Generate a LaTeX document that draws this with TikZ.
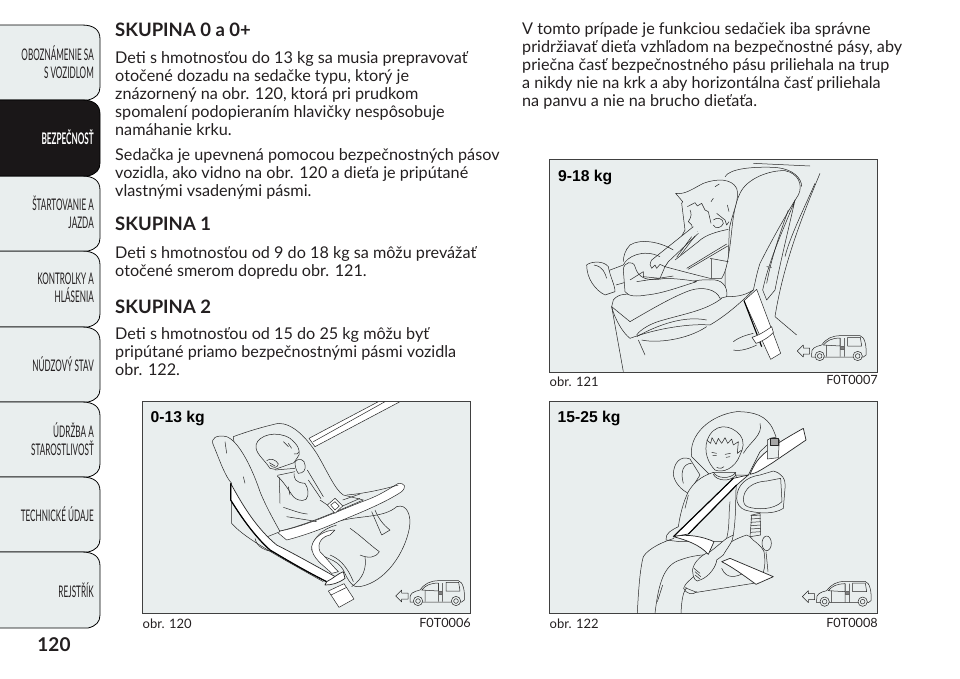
\documentclass[tikz,border=0pt]{standalone}
\usepackage{fontspec}
\setmainfont{Lato}
\newfontfamily\tabfont[FakeStretch=0.51]{Lato}
\newfontfamily\panelfont{Liberation Sans}
\definecolor{tabfill}{HTML}{E9EEEE}
\definecolor{tabdark}{HTML}{1A1718}
\definecolor{inktext}{HTML}{231F20}

\tikzset{
  bodytext/.style={anchor=north west,align=left,inner sep=0pt,text=inktext,font=\fontsize{16.2}{18}\selectfont},
  headtext/.style={anchor=west,inner sep=0pt,text=inktext,font=\fontsize{18.5}{20}\selectfont\bfseries},
  tabtext/.style={anchor=east,align=right,inner sep=0pt,text=inktext,font=\tabfont\fontsize{16}{18}\selectfont},
  kgtext/.style={anchor=west,inner sep=0pt,text=black,font=\panelfont\bfseries\fontsize{15.7}{18}\selectfont},
  captext/.style={anchor=base west,inner sep=0pt,text=inktext,font=\fontsize{13}{15}\selectfont},
  codetext/.style={anchor=base east,inner sep=0pt,text=inktext,font=\fontsize{12.7}{15}\selectfont},
  panel/.style={draw=black!75,line width=0.8pt,fill=tabfill},
  art/.style={draw=black!85,line width=0.5pt,line join=round},
  strap/.style={art,fill=white},
  tabshape/.style={draw=black,line width=0.8pt,fill=tabfill},
  vanicon/.pic={
    \draw[art,fill=tabfill] (797,603) -- (815,585) -- (815,594) -- (834,594) -- (834,612) -- (815,612) -- (815,621) -- cycle;
    \draw[art] (840,612) .. controls (838,595) and (850,590) .. (870,585) .. controls (885,565) and (900,558) .. (925,557) -- (985,557) .. controls (1000,560) and (1005,590) .. (1003,615) -- (995,621) -- (840,621) -- cycle;
    \draw[art] (875,585) .. controls (888,570) and (900,565) .. (925,564) -- (925,588) -- cycle;
    \draw[art] (885,585) -- (885,620) (925,564) -- (925,620) (938,564) -- (938,620) (948,562) -- (948,588) -- (990,588) -- (986,562) -- cycle;
    \draw[black!60,fill=black!50] (926,588) rectangle (938,597);
    \draw[art,fill=tabfill] (864,618) circle (14);
    \draw[art,fill=tabfill] (864,618) circle (7);
    \draw[art,fill=tabfill] (978,618) circle (14);
    \draw[art,fill=tabfill] (978,618) circle (7);
  }
}

\begin{document}
\begin{tikzpicture}[x=1pt,y=-1pt]
\useasboundingbox (0,0) rectangle (960,678);

% tabs
\foreach \ta/\tb in {25/100,251/327,327/402,402/477,477/552,552/628,176/251}{
  \draw[tabshape] (-2,\ta) -- (82,\ta) .. controls (94,\ta) and (100,{\ta+5}) .. (100,{\ta+14}) -- (100,{\tb-13}) .. controls (100,{\tb-6}) and (96,{\tb-2}) .. (88,\tb) -- (-2,\tb);
}
\draw[tabshape,fill=tabdark] (-2,100) -- (82,100) .. controls (94,100) and (100,105) .. (100,114) -- (100,163) .. controls (100,170) and (96,174) .. (88,176) -- (-2,176) -- cycle;

\node[tabtext] (tabA) at (94,62) {OBOZNÁMENIE SA\\S VOZIDLOM};
\node[tabtext,text=white] (tabB) at (94,137) {\bfseries BEZPEČNOSŤ};
\node[tabtext] (tabC) at (94,212) {ŠTARTOVANIE A\\JAZDA};
\node[tabtext] (tabD) at (94,288) {KONTROLKY A\\HLÁSENIA};
\node[tabtext] (tabE) at (94,364) {NÚDZOVÝ STAV};
\node[tabtext] (tabF) at (94,439) {ÚDRŽBA A\\STAROSTLIVOSŤ};
\node[tabtext] (tabG) at (94,514) {TECHNICKÉ ÚDAJE};
\node[tabtext] (tabH) at (94,590) {REJSTŘÍK};
\node[inner sep=0pt,text=inktext,font=\fontsize{19}{22}\selectfont\bfseries] (pageno) at (54,645) {120};

% left column
\node[headtext] (headA) at (115,29.5) {SKUPINA 0 a 0+};
\node[bodytext] (paraA) at (115,51) {Deti s hmotnosťou do 13 kg sa musia prepravovať\\otočené dozadu na sedačke typu, ktorý je\\znázornený na obr. 120, ktorá pri prudkom\\spomalení podopieraním hlavičky nespôsobuje\\namáhanie krku.};
\node[bodytext] (paraB) at (115,148) {Sedačka je upevnená pomocou bezpečnostných pásov\\vozidla, ako vidno na obr. 120 a dieťa je pripútané\\vlastnými vsadenými pásmi.};
\node[headtext] (headB) at (115,224) {SKUPINA 1};
\node[bodytext] (paraC) at (115,246) {Deti s hmotnosťou od 9 do 18 kg sa môžu prevážať\\otočené smerom dopredu obr. 121.};
\node[headtext] (headC) at (115,306.5) {SKUPINA 2};
\node[bodytext] (paraD) at (115,327) {Deti s hmotnosťou od 15 do 25 kg môžu byť\\pripútané priamo bezpečnostnými pásmi vozidla\\obr. 122.};

% right column
\node[bodytext] (paraE) at (522,22) {V tomto prípade je funkciou sedačiek iba správne\\pridržiavať dieťa vzhľadom na bezpečnostné pásy, aby\\priečna časť bezpečnostného pásu priliehala na trup\\a nikdy nie na krk a aby horizontálna časť priliehala\\na panvu a nie na brucho dieťaťa.};

% panel 120
\draw[panel] (142.3,401.7) rectangle (470.7,613.3);
\begin{scope}[shift={(130,395)},scale=1/3]
\draw[strap] (537,130) -- (745,20) -- (810,20) -- (555,155) -- cycle;
\draw[art] (550,140) -- (765,20);
\draw[art,fill=tabfill] (310,125) .. controls (350,110) and (400,95) .. (445,85) .. controls (490,85) and (530,130) .. (560,175) .. controls (590,225) and (615,285) .. (640,300) -- (700,315) .. controls (640,340) and (520,395) .. (440,410) -- (380,360) .. controls (340,320) and (320,220) .. (310,125) -- cycle;
\draw[art,fill=tabfill] (620,380) .. controls (690,360) and (760,370) .. (800,335) .. controls (830,325) and (845,360) .. (838,400) .. controls (825,470) and (770,560) .. (690,575) .. controls (670,580) and (655,560) .. (640,525) .. controls (620,490) and (580,490) .. (545,465) .. controls (545,430) and (580,400) .. (620,390);
\draw[art] (660,400) .. controls (690,420) and (720,450) .. (748,470) .. controls (735,490) and (715,490) .. (690,480);
\draw[art] (705,485) .. controls (710,520) and (700,550) .. (665,575);
\draw[art] (600,480) .. controls (625,490) and (650,510) .. (670,560);
\draw[art] (725,350) -- (755,420) -- (780,405) .. controls (760,390) and (745,370) .. (735,345);
\draw[art,fill=white] (440,410) .. controls (530,395) and (640,340) .. (710,315) .. controls (750,300) and (780,280) .. (805,265) .. controls (825,265) and (830,275) .. (815,290) .. controls (770,320) and (700,350) .. (625,380) .. controls (570,405) and (510,425) .. (470,435) -- cycle;
\draw[art] (650,300) .. controls (710,295) and (770,280) .. (805,270);
\draw[art,fill=tabfill] (250,150) .. controls (240,130) and (260,118) .. (290,125) .. controls (330,140) and (370,230) .. (390,290) .. controls (410,340) and (440,390) .. (450,410) -- (400,430) -- (305,320) -- (305,265) .. controls (285,245) and (265,185) .. (250,150) -- cycle;
\draw[art] (305,320) -- (305,385) .. controls (340,425) and (410,465) .. (580,560);
\draw[art] (375,430) .. controls (380,455) and (405,470) .. (440,470);
\draw[art] (285,140) -- (290,175) (340,245) -- (345,265);
% baby
\begin{scope}[shift={(270,75)}]
\draw[art,fill=tabfill] (150,145) .. controls (130,115) and (105,100) .. (108,75) .. controls (115,45) and (170,30) .. (210,55) .. controls (235,75) and (240,90) .. (237,105) -- (222,128) -- (165,148) -- cycle;
\draw[art] (190,65) -- (205,80) (205,70) -- (215,85) (222,102) .. controls (230,105) and (235,100) .. (237,95);
\draw[art] (140,122) .. controls (150,112) and (170,120) .. (175,132) .. controls (172,145) and (160,145) .. (150,135) (148,128) -- (165,138);
\draw[art] (165,150) -- (225,145) (172,166) -- (225,155);
\draw[art,fill=tabfill] (225,125) .. controls (235,112) and (255,118) .. (255,135) .. controls (258,150) and (250,160) .. (235,160) .. controls (228,150) and (225,140) .. (225,125) -- cycle;
\draw[art] (222,160) .. controls (222,175) and (225,188) .. (255,190) .. controls (265,205) and (268,225) .. (258,238) .. controls (245,245) and (230,240) .. (220,230) .. controls (205,210) and (195,190) .. (172,168);
\draw[art] (262,150) -- (310,230) (265,180) -- (303,236);
\draw[art] (178,172) .. controls (178,200) and (180,225) .. (180,250) (205,200) -- (210,225) (190,262) .. controls (215,270) and (240,280) .. (262,282) (200,290) .. controls (230,295) and (265,300) .. (290,305);
\draw[art,fill=white] (322,255) -- (345,235) -- (368,258) -- (345,280) -- cycle;
\draw[art] (332,255) -- (345,245) -- (358,258) -- (345,270) -- cycle;
\draw[art] (300,240) -- (322,255) (368,240) -- (420,222) (368,258) -- (420,235);
\end{scope}
% belt on the left
\draw[strap,line width=0.7pt] (302,265) .. controls (340,335) and (380,400) .. (440,450) .. controls (500,480) and (570,520) .. (625,550) -- (590,560) .. controls (530,530) and (470,495) .. (420,465) .. controls (370,420) and (330,360) .. (302,315) -- cycle;
\draw[black,line width=1.2pt] (302,265) -- (302,315) .. controls (330,360) and (370,420) .. (420,465) .. controls (470,495) and (530,530) .. (590,560);
\draw[strap] (545,455) .. controls (550,425) and (585,405) .. (615,405) -- (600,420) .. controls (575,425) and (560,445) .. (570,470) .. controls (590,490) and (605,510) .. (625,530) -- (605,535) .. controls (580,510) and (545,490) .. (545,455) -- cycle;
\draw[strap,line width=0.7pt] (590,560) .. controls (610,550) and (625,535) .. (640,530) -- (645,550) .. controls (625,565) and (605,570) .. (585,570) -- cycle;
\draw[art,fill=white] (595,588) -- (642,566) -- (672,612) -- (627,637) -- cycle;
\draw[art] (603,600) -- (650,577);
\path (0,0) pic[transform shape] {vanicon};
\end{scope}
\node[kgtext] (kgA) at (150.5,418) {0-13 kg};
\node[captext] (capA) at (142.5,628) {obr. 120};
\node[codetext] (codeA) at (471,627) {F0T0006};

% panel 121
\draw[panel] (549,159) rectangle (877.7,372.7);
\begin{scope}[shift={(540,150)},scale=1/3]
% car seat behind
\draw[art] (840,70) .. controls (790,190) and (730,340) .. (705,500) -- (770,555);
\draw[art] (825,100) .. controls (790,180) and (750,260) .. (735,320);
\draw[art] (640,40) -- (810,48) (555,80) .. controls (570,55) and (640,50) .. (700,52) .. controls (760,55) and (785,85) .. (785,110);
% shell
\draw[art,fill=tabfill] (600,130) .. controls (620,85) and (690,60) .. (735,62) .. controls (775,70) and (790,105) .. (775,135) .. controls (740,190) and (690,280) .. (660,340) .. controls (650,370) and (645,400) .. (640,420) .. controls (610,440) and (580,440) .. (555,440) -- (555,360) .. controls (580,280) and (570,190) .. (600,130) -- cycle;
\draw[art] (765,150) .. controls (730,240) and (690,320) .. (668,420) -- (680,450) -- (705,420) .. controls (720,340) and (745,240) .. (765,150);
\draw[art] (745,180) .. controls (720,250) and (695,320) .. (680,400);
\draw[art] (680,350) -- (695,352);
% base
\draw[art] (215,470) -- (250,665);
\draw[art,fill=tabfill] (220,450) .. controls (235,430) and (260,430) .. (310,435) .. controls (370,420) and (450,385) .. (510,390) .. controls (545,385) and (565,410) .. (560,440) -- (540,445) .. controls (530,420) and (490,405) .. (440,425) .. controls (390,445) and (330,480) .. (270,515) -- (215,470) -- cycle;
\draw[art] (215,470) .. controls (225,510) and (250,550) .. (270,565) .. controls (350,535) and (450,520) .. (510,525) .. controls (560,495) and (600,460) .. (640,420);
\draw[art] (290,560) .. controls (380,510) and (450,500) .. (500,510) (545,445) .. controls (500,480) and (440,490) .. (370,510) .. controls (330,520) and (300,540) .. (290,555);
\draw[art] (295,570) -- (315,615) (305,570) .. controls (350,580) and (440,570) .. (500,530);
\draw[art] (580,600) .. controls (600,605) and (630,595) .. (650,585) (580,575) .. controls (600,560) and (620,555) .. (640,550);
% belt
\draw[strap] (612,452) -- (650,418) -- (722,610) -- (692,628) -- cycle;
\draw[black,line width=1.1pt] (612,452) -- (665,590);
\draw[art,fill=white] (636,562) .. controls (660,555) and (680,540) .. (695,530) -- (700,547) .. controls (690,560) and (665,575) .. (648,580) -- cycle;
% child
\begin{scope}[shift={(210,60)}]
\draw[art,fill=tabfill] (197,70) .. controls (225,75) and (250,55) .. (280,40) .. controls (320,25) and (365,25) .. (380,55) .. controls (390,85) and (370,120) .. (358,175) -- (355,260) .. controls (350,290) and (345,310) .. (335,325) -- (300,325) .. controls (260,315) and (220,305) .. (165,290) -- (225,180) -- (215,100) -- (218,95) -- cycle;
\draw[art] (240,120) .. controls (245,130) and (245,140) .. (235,155) -- (245,165) -- (250,185) -- (262,185);
\draw[art] (232,110) -- (255,98) -- (262,108) -- (275,100) -- (285,120) -- (295,125) -- (303,160);
\draw[art] (310,150) .. controls (320,140) and (340,145) .. (340,160) .. controls (335,175) and (315,178) .. (310,165);
\draw[art] (320,130) -- (345,150) -- (350,165) -- (357,155);
\draw[art] (315,50) -- (328,42) (303,95) -- (310,85) (352,105) -- (357,125);
\draw[art] (355,178) .. controls (320,185) and (285,195) .. (265,215) -- (195,270);
\draw[art] (350,222) -- (230,295) (353,228) -- (234,298) (300,265) -- (355,275) (305,265) -- (305,325);
\draw[art,fill=tabfill] (250,170) -- (125,270) .. controls (118,280) and (120,290) .. (125,295) -- (135,285) -- (140,295) -- (150,283) -- (165,290) -- (175,275) -- (265,190);
\draw[art] (245,200) -- (200,262) (255,198) -- (212,255);
\draw[art] (190,240) .. controls (150,215) and (90,205) .. (60,225) .. controls (45,240) and (40,260) .. (40,275) (40,285) .. controls (50,260) and (100,235) .. (150,260);
\draw[art] (100,305) -- (100,320) -- (150,325) -- (165,290);
\end{scope}
\draw[art,fill=tabfill] (250,360) .. controls (250,335) and (280,330) .. (285,350) .. controls (295,385) and (320,395) .. (375,385) .. controls (400,385) and (450,390) .. (470,395) .. controls (420,410) and (370,430) .. (320,435) .. controls (290,440) and (265,440) .. (255,425) -- (250,360) -- cycle;
\draw[art] (270,390) -- (310,365) (290,395) -- (400,378);
\draw[art] (205,362) -- (250,345) (228,405) -- (252,398);
\draw[art,fill=tabfill] (140,345) .. controls (150,335) and (190,330) .. (205,350) .. controls (210,380) and (225,405) .. (225,425) -- (195,435) .. controls (165,420) and (140,385) .. (140,345) -- cycle;
\draw[art] (162,345) .. controls (190,350) and (195,370) .. (200,385);
\path (-25,0) pic[transform shape] {vanicon};
\end{scope}
\node[kgtext] (kgB) at (558,177) {9-18 kg};
\node[captext] (capB) at (549.5,386) {obr. 121};
\node[codetext] (codeB) at (878,384) {F0T0007};

% panel 122
\draw[panel] (549,401.7) rectangle (877.7,613.3);
\begin{scope}[shift={(540,395)},scale=1/3]
% hood and wing
\draw[art,fill=tabfill] (455,185) .. controls (445,120) and (510,60) .. (590,50) .. controls (640,50) and (680,60) .. (700,105) -- (708,125) -- (660,170) -- (625,240) -- (510,240) -- cycle;
\draw[art] (660,85) .. controls (670,120) and (630,140) .. (610,175);
\draw[art,fill=tabfill] (450,192) .. controls (420,180) and (400,205) .. (400,240) .. controls (405,265) and (425,285) .. (445,295) -- (480,240) -- cycle;
\draw[art] (455,205) .. controls (430,205) and (420,230) .. (430,265);
% body
\draw[art,fill=tabfill] (520,232) .. controls (480,245) and (460,265) .. (445,290) .. controls (430,320) and (420,360) .. (415,395) .. controls (395,405) and (375,415) .. (378,435) -- (420,440) -- (560,440) -- (580,420) .. controls (590,350) and (585,310) .. (590,250) -- (585,232) -- cycle;
\draw[art] (445,300) -- (435,340) (570,320) .. controls (565,360) and (570,390) .. (560,430);
% head
\draw[art,fill=tabfill] (502,135) .. controls (490,170) and (505,205) .. (525,225) .. controls (550,235) and (585,220) .. (600,180) .. controls (610,160) and (615,140) .. (600,120) .. controls (570,85) and (520,85) .. (502,135) -- cycle;
\draw[art] (500,135) -- (512,145) -- (516,128) -- (528,148) -- (535,130) -- (545,145) -- (555,128) -- (563,145) -- (575,132) -- (580,150) -- (595,140) -- (592,175) -- (605,165);
\draw[art] (515,172) -- (530,175) (555,178) -- (572,175) (518,182) -- (530,182) (558,187) -- (570,185) (530,217) .. controls (540,222) and (548,220) .. (552,215);
\draw[art] (520,232) .. controls (530,250) and (570,255) .. (588,232) (520,238) .. controls (530,258) and (570,262) .. (588,240);
% spring
\draw[art,fill=tabfill] (635,360) -- (660,355) -- (662,420) -- (630,425) -- cycle;
\foreach \ya in {362,372,382,392,402,412}{
  \draw[art] (632,\ya) -- (662,{\ya-2});
}
% booster
\draw[art,fill=tabfill] (630,425) .. controls (640,440) and (660,445) .. (672,470) .. controls (680,520) and (670,550) .. (640,565) -- (470,592) -- (435,578) .. controls (425,570) and (470,540) .. (500,510) .. controls (530,470) and (560,440) .. (620,420) -- cycle;
\draw[art,fill=tabfill] (680,445) ellipse (14 and 22);
\draw[art] (678,470) -- (684,530) (470,590) .. controls (460,600) and (440,600) .. (430,578) (545,520) .. controls (560,555) and (590,545) .. (610,535);
% thighs
\draw[art] (292,655) .. controls (295,590) and (300,520) .. (310,485) .. controls (325,460) and (370,440) .. (402,430);
\draw[art] (345,655) .. controls (355,570) and (370,510) .. (420,495) .. controls (460,480) and (490,480) .. (510,478);
\draw[art] (423,655) .. controls (425,610) and (430,590) .. (440,578) (352,620) -- (368,570);
% hand
\draw[art,fill=tabfill] (510,470) .. controls (480,480) and (455,510) .. (458,530) .. controls (458,550) and (470,565) .. (480,555) .. controls (510,545) and (530,510) .. (530,495) -- (550,480) .. controls (560,460) and (580,440) .. (580,420) -- (560,430) .. controls (540,445) and (525,460) .. (510,470) -- cycle;
\draw[art] (462,520) -- (480,535) (465,530) -- (482,545) (465,540) -- (480,552);
% headrest
\draw[art,fill=tabfill] (590,310) .. controls (590,270) and (620,245) .. (660,240) -- (700,228) .. controls (725,235) and (738,250) .. (735,280) -- (730,340) .. controls (700,360) and (650,355) .. (615,345) .. controls (600,340) and (590,325) .. (590,310) -- cycle;
\draw[art] (610,315) .. controls (610,280) and (640,260) .. (680,258) -- (722,250) -- (726,320) .. controls (700,345) and (650,345) .. (622,335) .. controls (612,330) and (610,320) .. (610,315) -- cycle;
% belts
\draw[strap,line width=0.7pt] (630,238) .. controls (650,190) and (665,170) .. (790,100) -- (798,135) -- (695,205) .. controls (670,220) and (650,235) .. (630,238) -- cycle;
\draw[strap,line width=0.7pt] (400,425) -- (580,250) -- (625,240) -- (590,270) -- (445,417) -- cycle;
\draw[black,line width=1.1pt] (400,425) -- (580,250) (445,417) -- (590,270);
\draw[strap,line width=0.7pt] (400,425) .. controls (440,415) and (490,425) .. (522,440) -- (505,478) .. controls (480,450) and (440,435) .. (400,425) -- cycle;
\draw[strap,line width=0.7pt] (545,500) -- (570,490) -- (700,545) -- (648,568) .. controls (610,540) and (575,515) .. (545,500) -- cycle;
% guide
\draw[art,fill=tabfill] (682,135) .. controls (695,125) and (710,125) .. (718,135) -- (715,188) -- (682,192) -- cycle;
\draw[art,fill=black!35] (690,130) rectangle (714,152);
\path (-10,2) pic[transform shape] {vanicon};
\end{scope}
\node[kgtext] (kgC) at (557.5,418) {15-25 kg};
\node[captext] (capC) at (549.5,628) {obr. 122};
\node[codetext] (codeC) at (878,627) {F0T0008};

\end{tikzpicture}
\end{document}
